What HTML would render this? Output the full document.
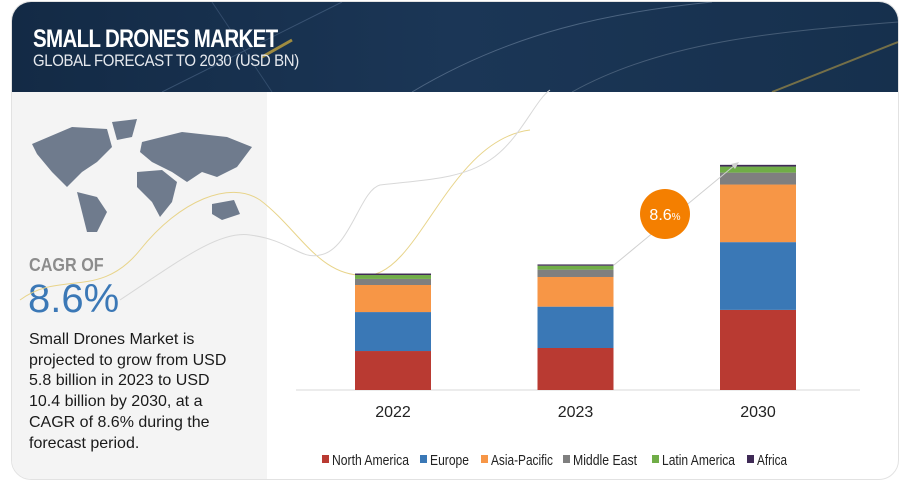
<!DOCTYPE html>
<html><head><meta charset="utf-8">
<style>
body{margin:0;width:900px;height:481px;background:#fff;font-family:"Liberation Sans",sans-serif;overflow:hidden;position:relative}
.card{position:absolute;left:11px;top:1px;width:886px;height:477px;border:1px solid #e2e2e2;border-radius:20px;overflow:hidden;background:#fff}
.hdr{position:absolute;left:0;top:0;width:886px;height:90px;background:linear-gradient(90deg,#132a45 0%,#1b3656 50%,#16304d 100%)}
.t1{position:absolute;left:21px;top:23px;color:#fff;font-size:25px;font-weight:bold;letter-spacing:-0.8px;transform:scaleX(0.82);transform-origin:left}
.t2{position:absolute;left:21px;top:49px;color:#e6e9ee;font-size:17px;letter-spacing:-0.4px;transform:scaleX(0.88);transform-origin:left}
.lp{position:absolute;left:0;top:90px;width:255px;height:387px;background:#f4f4f4}
.cagr{position:absolute;left:17px;top:163px;color:#8c8c8c;font-size:18px;font-weight:bold;transform:scaleX(0.9);transform-origin:left}
.big{position:absolute;left:16px;top:185px;color:#3b78b6;font-size:40px}
.para{position:absolute;left:17px;top:238px;color:#1a1a1a;font-size:16px;line-height:20.7px;width:212px}
</style></head><body>
<div class="card">
 <div class="hdr">
  <svg width="886" height="90" style="position:absolute;left:0;top:0">
   <path d="M150 90 L330 0" stroke="#5a7596" stroke-width="1" opacity=".5"/>
   <path d="M260 90 L200 0" stroke="#5a7596" stroke-width="1" opacity=".4"/>
   <path d="M400 90 C500 30 600 10 700 0" stroke="#7d93ad" stroke-width="1" fill="none" opacity=".5"/>
   <path d="M560 90 C650 40 760 30 886 20" stroke="#8a9bb0" stroke-width="1" fill="none" opacity=".4"/>
   <path d="M760 90 L886 40" stroke="#b49a45" stroke-width="2" opacity=".6"/>
   <path d="M250 55 L280 38" stroke="#d8b23a" stroke-width="3" opacity=".7"/>
  </svg>
  <div class="t1">SMALL DRONES MARKET</div>
  <div class="t2">GLOBAL FORECAST TO 2030 (USD BN)</div>
 </div>
 <div class="lp">
  <svg width="255" height="140" style="position:absolute;left:0;top:0">
   <g fill="#6f7b8d">
    <path d="M20 52 L60 35 L95 37 L100 55 L85 70 L70 80 L55 95 L40 80 L25 62Z"/>
    <path d="M100 30 L125 27 L120 45 L105 48Z"/>
    <path d="M65 100 L85 105 L95 120 L85 140 L75 140 L70 120Z"/>
    <path d="M130 50 L170 40 L215 45 L240 55 L225 75 L205 85 L190 80 L175 90 L160 80 L140 70 L128 60Z"/>
    <path d="M125 80 L150 78 L165 90 L160 110 L148 125 L140 110 L125 95Z"/>
    <path d="M200 112 L222 108 L228 122 L210 128 L200 122Z"/>
   </g>
  </svg>
  <div class="cagr">CAGR OF</div>
  <div class="big">8.6%</div>
  <div class="para">Small Drones Market is projected to grow from USD 5.8 billion in 2023 to USD 10.4 billion by 2030, at a CAGR of 8.6% during the forecast period.</div>
 </div>
</div>
<svg id="chart" width="900" height="481" style="position:absolute;left:0;top:0">
 <path d="M20 300 C60 270 100 300 140 250 C180 200 230 180 260 200 C300 230 320 280 370 275 C420 270 450 140 530 130" stroke="#e8d48a" fill="none" stroke-width="1"/>
 <path d="M120 300 C180 260 220 230 250 235 C290 240 300 260 320 255 C350 250 360 190 380 185 C420 180 460 180 490 160 C520 140 535 100 550 90" stroke="#d8d8d8" fill="none" stroke-width="1"/>
 <line x1="296" y1="390" x2="860" y2="390" stroke="#d9d9d9" stroke-width="1"/>
 <g id="bars"></g>
 <g id="xlabels"></g>
 <line x1="614" y1="265" x2="735" y2="165" stroke="#d0d0d0" stroke-width="1"/>
 <path d="M739 162 L731 164 L735 169Z" fill="#d0d0d0"/>
 <circle cx="665" cy="214" r="25" fill="#f47f00"/>
 <text x="665" y="220" text-anchor="middle" fill="#fff" font-size="16" font-family="Liberation Sans">8.6<tspan font-size="10">%</tspan></text>
 <g id="legend"></g>
</svg>
<script>
const categories=["2022","2023","2030"];
const series=["North America","Europe","Asia-Pacific","Middle East","Latin America","Africa"];
const colors=["#b93a32","#3a78b6","#f79646","#7f7f7f","#70ad47","#3f2a56"];
const northAmerica=[1.80,1.94,3.70];
const europe=[1.80,1.91,3.13];
const asiaPacific=[1.25,1.37,2.66];
const middleEast=[0.28,0.34,0.55];
const latinAmerica=[0.18,0.18,0.28];
const africa=[0.07,0.06,0.08];
const values=[northAmerica,europe,asiaPacific,middleEast,latinAmerica,africa];
const NS="http://www.w3.org/2000/svg";
const baseY=390, pxPer=21.65, barW=76;
const xCenter=i=>393+i*182.5;
const y=v=>baseY-v*pxPer;
const bars=document.getElementById('bars');
categories.forEach((c,i)=>{
 let acc=0;
 values.forEach((s,k)=>{
  const r=document.createElementNS(NS,'rect');
  r.setAttribute('x',xCenter(i)-barW/2);
  r.setAttribute('y',y(acc+s[i]));
  r.setAttribute('width',barW);
  r.setAttribute('height',s[i]*pxPer);
  r.setAttribute('fill',colors[k]);
  
  
  bars.appendChild(r);
  acc+=s[i];
 });
 const t=document.createElementNS(NS,'text');
 t.setAttribute('x',xCenter(i));t.setAttribute('y',417);
 t.setAttribute('text-anchor','middle');t.setAttribute('font-size','16');t.setAttribute('fill','#222');
 t.setAttribute('font-family','Liberation Sans');
 
 
 t.textContent=c;
 document.getElementById('xlabels').appendChild(t);
});
const legX=[322,420,481,563,652,747];
const legW=[77,39,62,64,73,30];
const lg=document.getElementById('legend');
series.forEach((s,k)=>{
 const g=document.createElementNS(NS,'g');
 
 
 const r=document.createElementNS(NS,'rect');
 r.setAttribute('x',legX[k]);r.setAttribute('y',455);r.setAttribute('width',7);r.setAttribute('height',8);r.setAttribute('fill',colors[k]);
 const t=document.createElementNS(NS,'text');
 t.setAttribute('x',legX[k]+10);t.setAttribute('y',465);t.setAttribute('font-size','14.5');t.setAttribute('fill','#222');
 t.setAttribute('font-family','Liberation Sans');
 t.setAttribute('textLength',String(legW[k]));
 t.setAttribute('lengthAdjust','spacingAndGlyphs');
 t.textContent=s;
 g.appendChild(r);g.appendChild(t);lg.appendChild(g);
});
</script>
</body></html>
